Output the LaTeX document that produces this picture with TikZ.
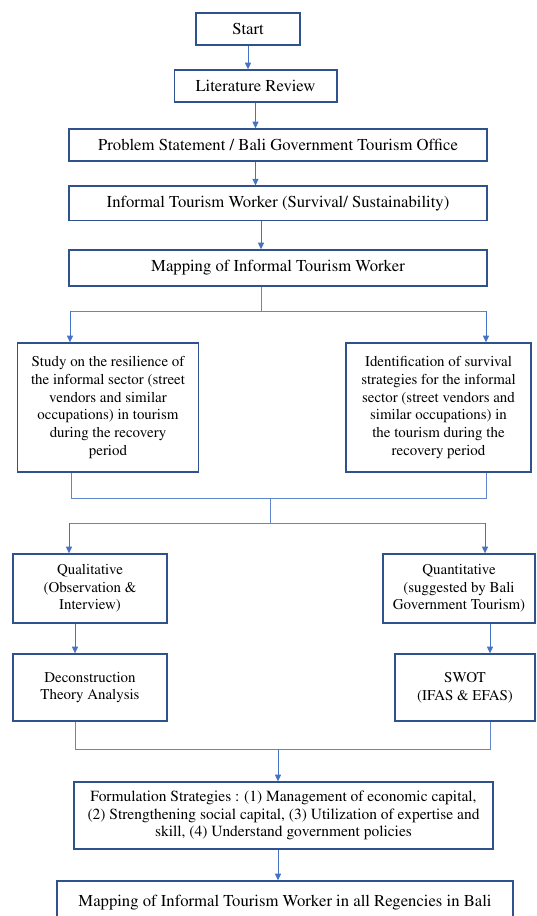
\documentclass[tikz,border=0pt]{standalone}
\usepackage[T1]{fontenc}
\usepackage{mathptmx}
\usetikzlibrary{arrows.meta}
\definecolor{boxblue}{HTML}{2F528F}
\definecolor{lineblue}{HTML}{4472C4}
\tikzset{
  stepbox/.style={draw=boxblue, line width=1pt, inner sep=2pt, align=center,
    font=\fontsize{11.2}{13.3}\selectfont},
  headbox/.style={stepbox, font=\fontsize{12.5}{14}\selectfont},
  arr/.style={draw=lineblue, line width=0.75pt, -{Triangle[length=5pt,width=4.5pt]}},
  bus/.style={draw=lineblue!85, line width=0.75pt}
}
\begin{document}
\begin{tikzpicture}[x=0.75pt,y=-0.75pt]
    \useasboundingbox (0,0) rectangle (536,916);
    \clip (0,0) rectangle (536,916);

    % main column
    \node[headbox, minimum width=78pt, minimum height=24pt] (start) at (248,29) {Start};
    \node[headbox, minimum width=122pt, minimum height=24pt] (lit) at (255.5,86) {Literature Review};
    \node[headbox, minimum width=313.5pt, minimum height=24pt] (prob) at (278,145) {Problem Statement / Bali Government Tourism Office};
    \node[headbox, minimum width=313.5pt, minimum height=26pt] (itw) at (278,203.5) {Informal Tourism Worker (Survival/ Sustainability)};
    \node[headbox, minimum width=313.5pt, minimum height=27pt] (map) at (278,268) {Mapping of Informal Tourism Worker};

    % two studies
    \node[stepbox, minimum width=136pt, minimum height=96.75pt] (studyL) at (108,407.5)
        {Study on the resilience of\\the informal sector (street\\vendors and similar\\occupations) in tourism\\during the recovery\\period};
    \node[stepbox, minimum width=138.75pt, minimum height=96.75pt] (studyR) at (438.5,407.5)
        {Identification of survival\\strategies for the informal\\sector (street vendors and\\similar occupations) in\\the tourism during the\\recovery period};

    % methods
    \node[stepbox, minimum width=115.5pt, minimum height=51.75pt] (qual) at (90,588.5) {Qualitative\\(Observation \&\\Interview)};
    \node[stepbox, minimum width=114pt, minimum height=51.75pt] (quant) at (459,588.5) {Quantitative\\(suggested by Bali\\Government Tourism)};
    \node[stepbox, minimum width=115.5pt, minimum height=50.25pt] (decon) at (90,687.5) {Deconstruction\\Theory Analysis};
    \node[stepbox, minimum width=105pt, minimum height=50.25pt] (swot) at (465,687.5) {SWOT\\(IFAS \& EFAS)};

    \node[stepbox, font=\fontsize{11.6}{13.3}\selectfont, minimum width=314.25pt, minimum height=50.25pt] (form) at (283.5,815.5)
        {Formulation Strategies : (1) Management of economic capital,\\(2) Strengthening social capital, (3) Utilization of expertise and\\skill, (4) Understand government policies};
    \node[headbox, minimum width=342pt, minimum height=33pt] (final) at (285,903) {Mapping of Informal Tourism Worker in all Regencies in Bali};

    % junction points
    \coordinate (spine) at (261,311);
    \coordinate (sl) at (70,311);
    \coordinate (sr) at (486,311);
    \coordinate (ml) at (71,498);
    \coordinate (mr) at (486,498);
    \coordinate (mc) at (270,498);
    \coordinate (tl) at (69,523);
    \coordinate (tr) at (485,523);
    \coordinate (bl) at (75,749);
    \coordinate (br) at (490,749);
    \coordinate (bc) at (278,749);

    \draw[arr] (start.south) -- (start.south |- lit.north);
    \draw[arr] (lit.south) -- (lit.south |- prob.north);
    \draw[arr] (prob.south -| lit) -- (itw.north -| lit);
    \draw[arr] (itw.south -| spine) -- (map.north -| spine);

    \draw[bus] (map.south -| spine) -- (spine);
    \draw[bus] (sl) -- (sr);
    \draw[arr] (sl) -- (sl |- studyL.north);
    \draw[arr] (sr) -- (sr |- studyR.north);

    \draw[bus] (studyL.south -| ml) -- (ml) -- (mr) -- (studyR.south -| mr);
    \draw[bus] (mc) -- (mc |- tl);
    \draw[bus] (tl) -- (tr);
    \draw[arr] (tl) -- (tl |- qual.north);
    \draw[arr] (tr) -- (tr |- quant.north);

    \draw[arr] (qual.south -| bl) -- (decon.north -| bl);
    \draw[arr] (quant.south -| br) -- (swot.north -| br);
    \draw[bus] (decon.south -| bl) -- (bl) -- (br) -- (swot.south -| br);
    \draw[arr] (bc) -- (form.north -| bc);
    \draw[arr] (form.south -| bc) -- (final.north -| bc);

\end{tikzpicture}
\end{document}
